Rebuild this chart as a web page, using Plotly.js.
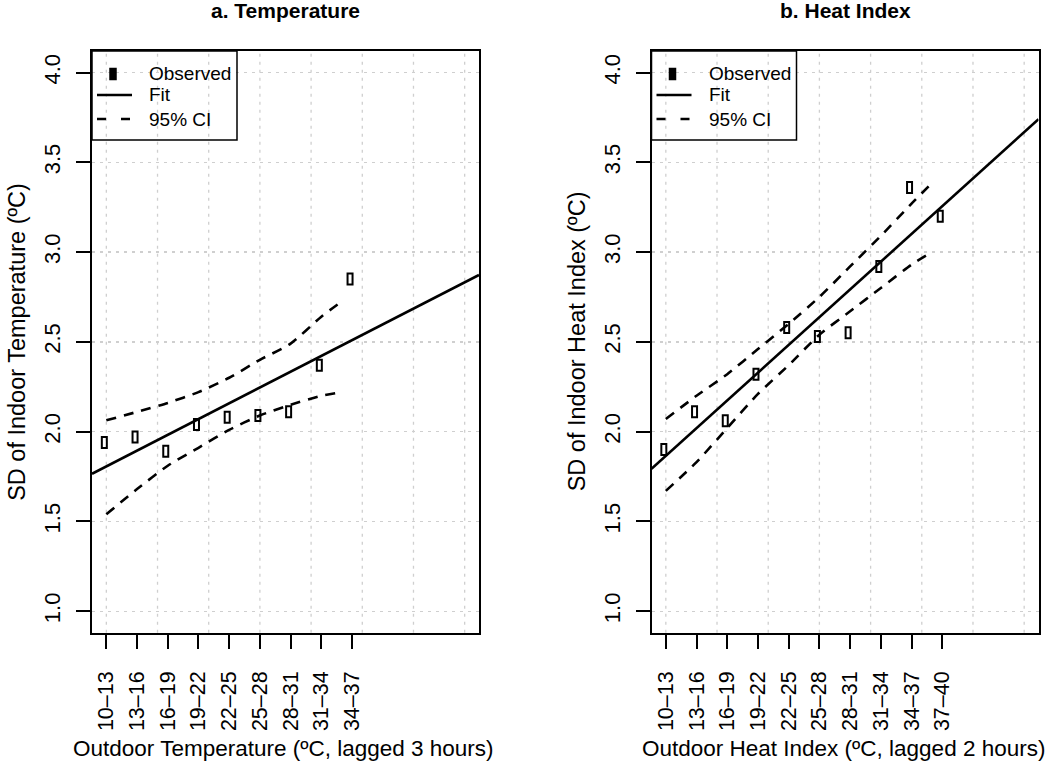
<!DOCTYPE html>
<html>
<head>
<meta charset="utf-8">
<script src="https://cdn.plot.ly/plotly-3.0.1.min.js"></script>
<style>html,body{margin:0;padding:0;background:#fff;}#chart{width:1050px;height:773px;}</style>
</head>
<body>
<div id="chart"></div>
<script>
// ---------- data ----------
const catsA = [10, 13, 16, 19, 22, 25, 28, 31, 34];
const labelsA = ['10–13', '13–16', '16–19', '19–22', '22–25', '25–28', '28–31', '31–34', '34–37'];
const observedA = [1.94, 1.97, 1.89, 2.04, 2.08, 2.09, 2.11, 2.37, 2.85];
const fitA = [1.806, 0.0293];           // value at x = 10, slope per °C
const ciXA = [10, 13, 16, 19, 22, 25, 28, 31, 33];
const ciUpperA = [2.063, 2.11, 2.16, 2.22, 2.30, 2.40, 2.49, 2.64, 2.725];
const ciLowerA = [1.54, 1.68, 1.81, 1.91, 2.01, 2.09, 2.15, 2.20, 2.22];

const catsB = [10, 13, 16, 19, 22, 25, 28, 31, 34, 37];
const labelsB = ['10–13', '13–16', '16–19', '19–22', '22–25', '25–28', '28–31', '31–34', '34–37', '37–40'];
const observedB = [1.90, 2.11, 2.06, 2.32, 2.58, 2.53, 2.55, 2.92, 3.36, 3.20];
const fitB = [1.865, 0.0515];
const ciXB = [10, 13, 16, 19, 22, 25, 28, 31, 34, 36];
const ciUpperB = [2.07, 2.20, 2.32, 2.46, 2.60, 2.75, 2.92, 3.09, 3.27, 3.385];
const ciLowerB = [1.67, 1.83, 2.02, 2.21, 2.37, 2.54, 2.67, 2.80, 2.93, 3.00];

const yTicks = [1.0, 1.5, 2.0, 2.5, 3.0, 3.5, 4.0];
const xGrid = [10, 15, 20, 25, 30, 35, 40, 45];
const legendLabels = ['Observed', 'Fit', '95% CI'];
const panelTitles = ['a. Temperature', 'b. Heat Index'];
const xTitles = ['Outdoor Temperature (ºC, lagged 3 hours)', 'Outdoor Heat Index (ºC, lagged 2 hours)'];
const yTitles = ['SD of Indoor Temperature (ºC)', 'SD of Indoor Heat Index (ºC)'];

// ---------- style ----------
const W = 1050, H = 773;
const FONT = 'Liberation Sans, Arial, Helvetica, sans-serif';
const xRange = [8.6, 46.4];
const yRange = [0.88, 4.12];
const plotTop = 51, plotBottom = 632.7;
const panels = [{left: 92, right: 479}, {left: 651.5, right: 1038.5}];
const px = v => v / W;
const py = v => 1 - v / H;

const traces = [];
const shapes = [];
const annotations = [];

function addPanel(i, cats, labels, obs, fit, ciX, ciU, ciL) {
  const xa = i === 0 ? 'x' : 'x2';
  const ya = i === 0 ? 'y' : 'y2';
  const P = panels[i];
  // fit line across plotting region
  const fx = [xRange[0], xRange[1]];
  traces.push({x: fx, y: fx.map(x => fit[0] + fit[1] * (x - 10)), xaxis: xa, yaxis: ya,
    mode: 'lines', line: {color: '#000', width: 2.6}, hoverinfo: 'skip'});
  traces.push({x: ciX, y: ciU, xaxis: xa, yaxis: ya, mode: 'lines',
    line: {color: '#000', width: 2.6, dash: '10px,8px', shape: 'spline', smoothing: 0.6}, hoverinfo: 'skip'});
  traces.push({x: ciX, y: ciL, xaxis: xa, yaxis: ya, mode: 'lines',
    line: {color: '#000', width: 2.6, dash: '10px,8px', shape: 'spline', smoothing: 0.6}, hoverinfo: 'skip'});
  // invisible hover carrier for observed points
  traces.push({x: cats, y: obs, xaxis: xa, yaxis: ya, mode: 'markers',
    marker: {opacity: 0, size: 8}, text: labels, hovertemplate: '%{text}: %{y}<extra></extra>'});
  // observed points as open rectangles
  cats.forEach((c, k) => {
    shapes.push({type: 'rect', xref: xa, yref: ya, xsizemode: 'pixel', ysizemode: 'pixel',
      xanchor: c, yanchor: obs[k], x0: -4.5, x1: 0.5, y0: -5.5, y1: 5.5,
      line: {color: '#000', width: 2}, fillcolor: 'rgba(0,0,0,0)'});
  });
  // vertical grid
  xGrid.forEach(g => {
    shapes.push({type: 'line', xref: xa, yref: ya + ' domain', x0: g, x1: g, y0: 0, y1: 1,
      layer: 'below', line: {color: '#cfcfcf', width: 1.3, dash: '3px,5px'}});
  });
  // legend box
  const L = P.left;
  shapes.push({type: 'rect', xref: 'paper', yref: 'paper', x0: px(L), x1: px(L + 145), y0: py(plotTop), y1: py(140),
    line: {color: '#000', width: 1.5}, fillcolor: 'rgba(0,0,0,0)'});
  shapes.push({type: 'rect', xref: 'paper', yref: 'paper', x0: px(L + 18.5), x1: px(L + 23.5), y0: py(69), y1: py(79),
    line: {color: '#000', width: 2.5}, fillcolor: '#000'});
  shapes.push({type: 'line', xref: 'paper', yref: 'paper', x0: px(L + 5), x1: px(L + 40), y0: py(95), y1: py(95),
    line: {color: '#000', width: 2.6}});
  shapes.push({type: 'line', xref: 'paper', yref: 'paper', x0: px(L + 5), x1: px(L + 40), y0: py(119), y1: py(119),
    line: {color: '#000', width: 2.6, dash: '9px,15px'}});
  [74, 95, 119].forEach((yy, k) => {
    annotations.push({xref: 'paper', yref: 'paper', x: px(L + 55), y: py(yy), text: legendLabels[k],
      showarrow: false, xanchor: 'left', yanchor: 'middle', font: {family: FONT, size: 19, color: '#000'}});
  });
  const cx = (P.left + P.right) / 2;
  annotations.push({xref: 'paper', yref: 'paper', x: px(cx), y: py(11), text: '<b>' + panelTitles[i] + '</b>',
    showarrow: false, xanchor: 'center', yanchor: 'middle', font: {family: FONT, size: 21, color: '#000'}});
  annotations.push({xref: 'paper', yref: 'paper', x: px(cx - 2), y: py(748), text: xTitles[i],
    showarrow: false, xanchor: 'center', yanchor: 'middle', font: {family: FONT, size: 22.5, color: '#000'}});
  annotations.push({xref: 'paper', yref: 'paper', x: px(P.left - 75), y: py((plotTop + plotBottom) / 2), text: yTitles[i],
    textangle: -90, showarrow: false, xanchor: 'center', yanchor: 'middle', font: {family: FONT, size: 23.5, color: '#000'}});
}

addPanel(0, catsA, labelsA, observedA, fitA, ciXA, ciUpperA, ciLowerA);
addPanel(1, catsB, labelsB, observedB, fitB, ciXB, ciUpperB, ciLowerB);

function xAxis(i, cats, labels) {
  return {domain: [px(panels[i].left), px(panels[i].right)], range: xRange, anchor: i === 0 ? 'y' : 'y2',
    tickmode: 'array', tickvals: cats, ticktext: labels, tickangle: -90,
    ticks: 'outside', ticklen: 14, tickwidth: 2, tickcolor: '#000', ticklabelstandoff: 14,
    showgrid: false, zeroline: false, showline: true, mirror: true, linecolor: '#000', linewidth: 2,
    tickfont: {family: FONT, size: 21.5, color: '#000'}, fixedrange: true};
}
function yAxis(i) {
  return {domain: [py(plotBottom), py(plotTop)], range: yRange, anchor: i === 0 ? 'x' : 'x2',
    tickmode: 'array', tickvals: yTicks, ticktext: yTicks.map(v => v.toFixed(1)), tickangle: -90,
    ticks: 'outside', ticklen: 14, tickwidth: 2, tickcolor: '#000', ticklabelstandoff: 7,
    showgrid: true, gridcolor: '#cfcfcf', gridwidth: 1.3, griddash: '3px,5px',
    zeroline: false, showline: true, mirror: true, linecolor: '#000', linewidth: 2,
    tickfont: {family: FONT, size: 22, color: '#000'}, fixedrange: true};
}

const layout = {
  width: W, height: H, margin: {l: 0, r: 0, t: 0, b: 0},
  paper_bgcolor: '#fff', plot_bgcolor: '#fff', showlegend: false,
  xaxis: xAxis(0, catsA, labelsA), yaxis: yAxis(0),
  xaxis2: xAxis(1, catsB, labelsB), yaxis2: yAxis(1),
  shapes: shapes, annotations: annotations,
  font: {family: FONT, color: '#000'}
};

Plotly.newPlot('chart', traces, layout, {displayModeBar: false, staticPlot: true});
</script>
</body>
</html>
